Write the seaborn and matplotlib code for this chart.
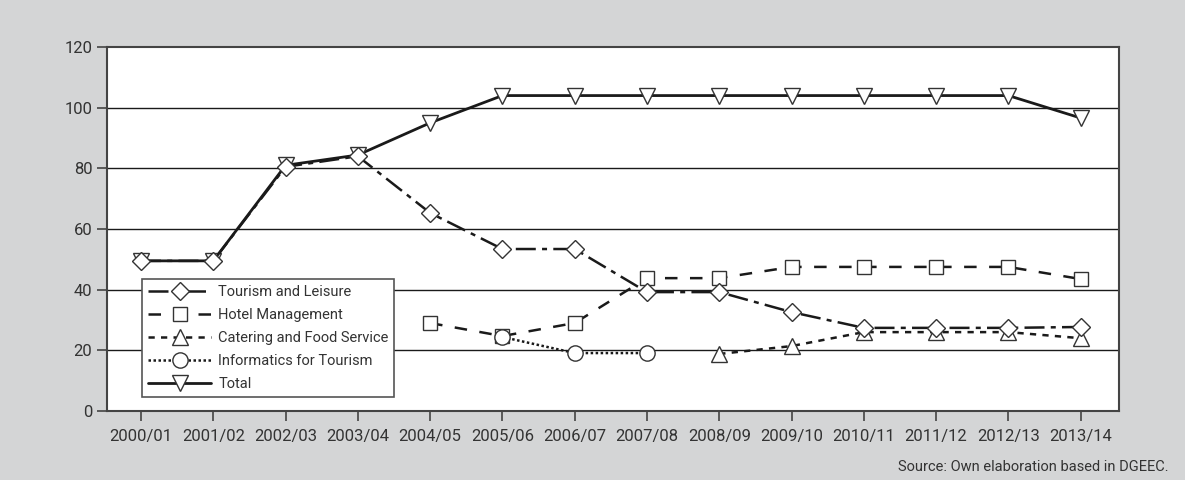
import numpy as np
import pandas as pd
import matplotlib
matplotlib.use("Agg")
import matplotlib.pyplot as plt
import seaborn as sns

years = ["2000/01", "2001/02", "2002/03", "2003/04", "2004/05", "2005/06", "2006/07",
         "2007/08", "2008/09", "2009/10", "2010/11", "2011/12", "2012/13", "2013/14"]
nan = np.nan
tourism = [49.5, 49.5, 80.5, 84, 65.3, 53.4, 53.4, 39.2, 39.2, 32.6, 27.4, 27.4, 27.4, 27.7]
hotel = [nan, nan, nan, nan, 29, 24.7, 29, 43.8, 43.8, 47.5, 47.5, 47.5, 47.5, 43.5]
catering = [nan, nan, nan, nan, nan, nan, nan, nan, 18.8, 21.4, 26, 26, 26, 24]
informatics = [nan, nan, nan, nan, nan, 24.4, 19.1, 19.1, nan, nan, nan, nan, nan, nan]
total = [49.5, 49.5, 81, 84.4, 95, 104, 104, 104, 104, 104, 104, 104, 104, 96.6]

bg = "#d4d5d6"
ink = "#1a1a1a"

sns.set_style("white")
plt.rcParams["font.family"] = ["Roboto", "DejaVu Sans"]

fig = plt.figure(figsize=(11.85, 4.8), dpi=100, facecolor=bg)
ax = fig.add_axes([0.0903, 0.1438, 0.8540, 0.7582])
ax.set_facecolor("white")

x = np.arange(len(years))
df = pd.DataFrame({"x": x, "Tourism and Leisure": tourism, "Hotel Management": hotel,
                   "Catering and Food Service": catering,
                   "Informatics for Tourism": informatics, "Total": total})

# series: column, marker, size, linestyle, width
styles = [
    ("Total", "v", 12, "-", 2.0),
    ("Hotel Management", "s", 10, (0, (5, 5)), 1.8),
    ("Catering and Food Service", "^", 12, (0, (2.5, 2.5)), 1.8),
    ("Informatics for Tourism", "o", 11, (0, (1, 1)), 1.8),
    ("Tourism and Leisure", "D", 9, (0, (8, 2.5, 2, 2.5)), 1.8),
]
handles = {}
for col, mk, ms, ls, lw in styles:
    d = df[["x", col]].dropna()
    sns.lineplot(data=d, x="x", y=col, ax=ax, color=ink, linestyle=ls, linewidth=lw,
                 marker=mk, markersize=ms, markerfacecolor="white",
                 markeredgecolor="#333333", markeredgewidth=1.0)
    handles[col] = ax.lines[-1]

for yv in [20, 40, 60, 80, 100]:
    ax.axhline(yv, color=ink, linewidth=1.0, zorder=0)

ax.set_xlim(-0.47, 13.53)
ax.set_ylim(0, 120)
ax.set_yticks(range(0, 121, 20))
ax.set_xticks(x)
ax.set_xticklabels(years)
ax.set_xlabel("")
ax.set_ylabel("")
ax.tick_params(axis="both", which="major", direction="out", length=7, width=1.2,
               color="#444444", labelcolor="#333333", labelsize=12, left=True, bottom=True)
ax.tick_params(axis="x", pad=6)
for s in ax.spines.values():
    s.set_color("#444444")
    s.set_linewidth(1.5)

order = ["Tourism and Leisure", "Hotel Management", "Catering and Food Service",
         "Informatics for Tourism", "Total"]
leg = ax.legend([handles[k] for k in order], order, loc="upper left",
                bbox_to_anchor=(0.035, 0.362), fontsize=10.5, frameon=True,
                fancybox=False, edgecolor="#555555", framealpha=1, handlelength=4.3,
                borderpad=0.4, labelspacing=0.62, handletextpad=0.5, borderaxespad=0)
leg.get_frame().set_linewidth(1.2)
for t in leg.get_texts():
    t.set_color("#333333")

fig.text(0.986, 0.012, "Source: Own elaboration based in DGEEC.", ha="right", va="bottom",
         fontsize=10.5, color="#333333")

fig.savefig("out.png", dpi=100, facecolor=bg)
